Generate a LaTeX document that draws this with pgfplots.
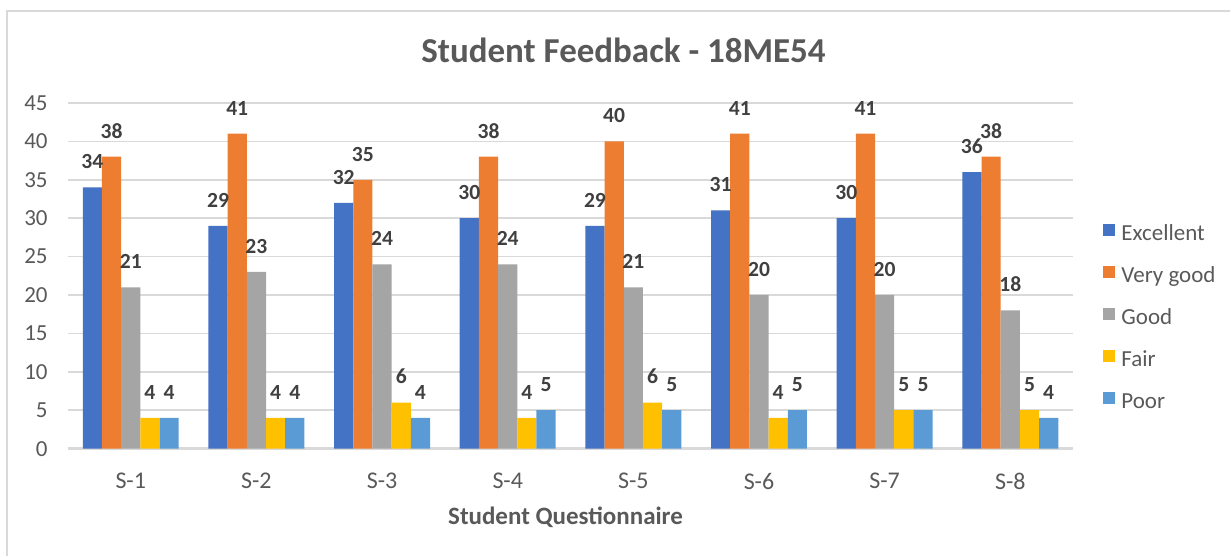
\documentclass[border=0pt]{standalone}
\usepackage{fontspec}
\setmainfont{Carlito}
\usepackage{pgfplots}
\pgfplotsset{compat=1.18}
\definecolor{cA}{HTML}{4472C4}
\definecolor{cB}{HTML}{ED7D31}
\definecolor{cC}{HTML}{A5A5A5}
\definecolor{cD}{HTML}{FFC000}
\definecolor{cE}{HTML}{5B9BD5}
\definecolor{txt}{HTML}{595959}
\definecolor{lbl}{HTML}{404040}
\definecolor{grd}{HTML}{D9D9D9}
\begin{document}
\begin{tikzpicture}
\path (0,0) rectangle (615.5pt,278pt);
\draw[grd, line width=1pt] (3.5pt,0) -- (3.5pt,272.5pt) -- (615.5pt,272.5pt);
\node[font=\fontsize{17.5}{20}\selectfont\bfseries, text=txt] at (312pt,253pt) {Student Feedback - 18ME54};
\begin{axis}[
  at={(34pt,53.5pt)}, anchor=south west,
  scale only axis, width=503pt, height=173pt,
  ybar=0pt, bar width=9.6pt,
  xmin=-0.5, xmax=7.5, ymin=0, ymax=45,
  xtick={0,...,7}, xticklabels={S-1,S-2,S-3,S-4,S-5,S-6,S-7,S-8},
  ytick={0,5,...,45},
  axis lines*=left,
  y axis line style={draw=none},
  x axis line style={line width=1.5pt, color=grd, -},
  major tick length=0pt,
  tick style={draw=none},
  ymajorgrids, grid style={grd, line width=0.75pt},
  /pgf/number format/assume math mode=true,
  tick label style={font=\fontsize{11.5}{13}\selectfont, text=txt},
  yticklabel style={inner sep=0pt, xshift=-10pt},
  xticklabel style={inner sep=0pt, anchor=north, yshift=-12pt, font=\fontsize{12}{14}\selectfont},
  xlabel={Student Questionnaire},
  xlabel style={at={(axis description cs:0.495,0)}, anchor=north, inner sep=0pt, yshift=-29pt, font=\fontsize{12.5}{14}\selectfont\bfseries, text=txt},
  nodes near coords,
  every node near coord/.append style={font=\fontsize{10.8}{12}\selectfont\bfseries, text=lbl, inner sep=0pt, anchor=south, yshift=9pt},
  legend style={at={(axis description cs:1.0298,0.377)}, anchor=west, draw=none, fill=none,
    font=\fontsize{11.5}{13}\selectfont, text=txt, row sep=10.5pt, inner sep=0pt,
    nodes={inner sep=0pt, text height=6.5pt, text depth=2pt}},
  legend cell align=left,
  legend image code/.code={\fill[#1] (0pt,0pt) rectangle (6pt,6.3pt); \path (9pt,0pt);},
]
\addplot[fill=cA, draw=none] coordinates {(0,34) (1,29) (2,32) (3,30) (4,29) (5,31) (6,30) (7,36)};
\addplot[fill=cB, draw=none] coordinates {(0,38) (1,41) (2,35) (3,38) (4,40) (5,41) (6,41) (7,38)};
\addplot[fill=cC, draw=none] coordinates {(0,21) (1,23) (2,24) (3,24) (4,21) (5,20) (6,20) (7,18)};
\addplot[fill=cD, draw=none] coordinates {(0,4) (1,4) (2,6) (3,4) (4,6) (5,4) (6,5) (7,5)};
\addplot[fill=cE, draw=none] coordinates {(0,4) (1,4) (2,4) (3,5) (4,5) (5,5) (6,5) (7,4)};
\legend{Excellent, Very good, Good, Fair, Poor}
\end{axis}
\end{tikzpicture}
\end{document}
